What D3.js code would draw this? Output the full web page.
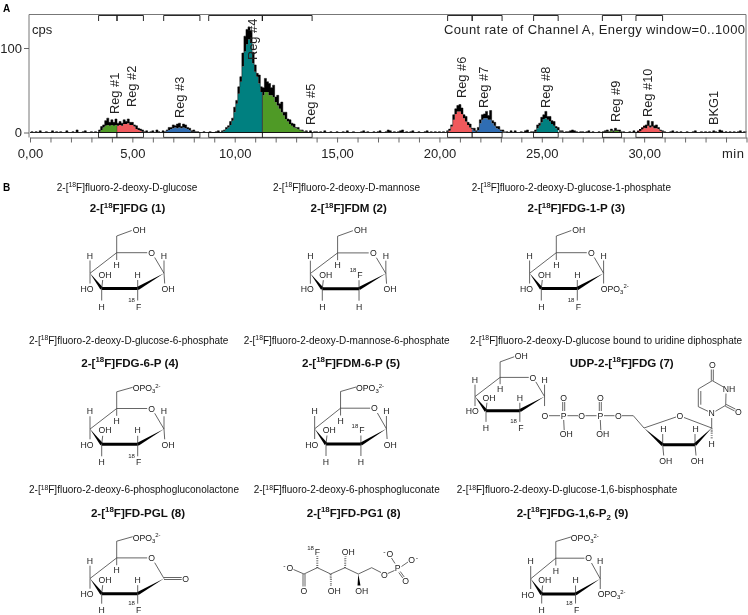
<!DOCTYPE html>
<html>
<head>
<meta charset="utf-8">
<script src="https://cdn.jsdelivr.net/npm/d3@7"></script>
<style>
  html, body { margin: 0; padding: 0; background: #fff; }
  svg { display: block; font-family: "Liberation Sans", Arial, sans-serif; filter: blur(0.3px); }
  .axis text { font-size: 13px; fill: #222; font-family: "Liberation Sans", Arial, sans-serif; }
  .axis path, .axis line { stroke: #666; }
</style>
</head>
<body>
<svg width="748" height="615"></svg>
<script>
// ---- chromatogram values, one entry per 0.1 min from 0 to 35 min ----
const traceHigh = [
  0,1,0,1,0,2,0,0,1,0,
  0,2,0,1,0,1,0,0,2,0,
  0,1,0,3,0,0,1,2,0,0,
  1,0,1,0,3,7,9,14,17,12,
  15,12,16,11,13,11,15,13,16,12,
  12,9,8,5,4,3,1,2,0,1,
  2,0,3,1,0,2,1,3,6,6,
  9,8,10,11,7,10,9,6,5,2,
  3,1,1,0,0,1,0,0,1,0,
  0,1,2,0,2,3,6,8,13,17,
  30,38,54,66,94,114,122,125,120,95,
  80,70,68,54,53,64,60,58,53,56,
  42,44,34,36,24,24,16,15,11,10,
  6,6,3,3,1,2,0,2,0,1,
  1,0,1,0,2,0,0,1,0,0,
  1,0,0,1,0,2,0,0,1,0,
  0,0,1,2,0,1,0,0,1,0,
  1,2,0,0,1,3,2,0,1,0,
  1,2,3,0,1,0,1,2,0,0,
  1,0,0,1,2,0,1,0,1,0,
  1,0,1,0,2,4,9,21,28,32,
  33,29,21,19,12,10,5,5,2,6,
  15,21,22,25,20,26,14,12,7,7,
  3,3,1,1,0,2,0,2,0,0,
  1,0,2,3,0,1,1,3,9,11,
  18,21,25,19,19,14,13,7,6,2,
  2,0,1,1,2,3,2,1,0,1,
  1,0,1,2,0,1,0,0,1,0,
  1,2,3,1,4,2,5,3,3,1,
  1,0,0,1,0,2,0,1,2,4,
  6,9,14,8,13,8,9,6,3,2,
  1,0,0,1,2,0,1,0,1,0,
  0,1,0,0,1,2,0,0,1,0,
  1,0,1,0,2,1,0,3,2,0,
  1,0,1,0,1,0,1,2,0,1,
  1
];
const traceLow = [
  0,0,0,0,0,0,0,0,0,0,
  0,0,0,0,0,0,0,0,0,0,
  0,0,0,0,0,0,0,0,0,0,
  0,0,0,0,1,3,6,8,9,8,
  9,8,9,8,9,8,10,10,11,9,
  9,7,4,3,2,1,0,0,0,0,
  0,0,0,0,0,0,1,2,3,4,
  5,6,5,6,5,6,5,4,3,1,
  1,0,0,0,0,0,0,0,0,0,
  0,0,0,0,1,2,4,6,9,14,
  24,34,46,60,78,96,104,110,106,82,
  72,66,58,48,44,48,48,44,44,42,
  36,32,28,24,20,16,13,10,8,6,
  5,4,3,2,1,1,0,0,0,0,
  0,0,0,0,0,0,0,0,0,0,
  0,0,0,0,0,0,0,0,0,0,
  0,0,0,0,0,0,0,0,0,0,
  0,0,0,0,0,0,0,0,0,0,
  0,0,0,0,0,0,0,0,0,0,
  0,0,0,0,0,0,0,0,0,0,
  0,0,0,0,1,2,7,15,22,25,
  25,22,17,13,9,6,4,2,1,3,
  11,15,17,17,15,15,11,8,5,4,
  2,1,1,0,0,0,0,0,0,0,
  0,0,0,0,0,0,0,1,5,8,
  12,16,17,15,13,10,8,5,3,1,
  1,0,0,0,0,0,0,0,0,0,
  0,0,0,0,0,0,0,0,0,0,
  0,1,1,1,2,1,2,2,1,1,
  0,0,0,0,0,0,0,2,4,6,
  8,5,8,6,7,5,5,4,2,1,
  0,0,0,0,0,0,0,0,0,0,
  0,0,0,0,0,0,0,0,0,0,
  0,0,0,0,0,0,0,0,0,0,
  0,0,0,0,0,0,0,0,0,0,
  0
];
const traceStep = 0.1;

const regionNames = ['Reg #1','Reg #2','Reg #3','Reg #4','Reg #5','Reg #6','Reg #7','Reg #8','Reg #9','Reg #10'];
const regionStarts = [3.35,4.25,6.53,8.73,11.35,20.4,21.6,24.6,27.96,29.6];
const regionEnds = [4.25,5.54,8.3,11.35,13.78,21.6,23.06,25.8,28.9,30.9];
const xTickValues = d3.range(0, 36);
const yTickValues = [0, 100];

// ---- texts of panel B ----
const subtitles = [
  [['2-['],['18','sup'],['F]fluoro-2-deoxy-D-glucose']],
  [['2-['],['18','sup'],['F]fluoro-2-deoxy-D-mannose']],
  [['2-['],['18','sup'],['F]fluoro-2-deoxy-D-glucose-1-phosphate']],
  [['2-['],['18','sup'],['F]fluoro-2-deoxy-D-glucose-6-phosphate']],
  [['2-['],['18','sup'],['F]fluoro-2-deoxy-D-mannose-6-phosphate']],
  [['2-['],['18','sup'],['F]fluoro-2-deoxy-D-glucose bound to uridine diphosphate']],
  [['2-['],['18','sup'],['F]fluoro-2-deoxy-6-phosphogluconolactone']],
  [['2-['],['18','sup'],['F]fluoro-2-deoxy-6-phosphogluconate']],
  [['2-['],['18','sup'],['F]fluoro-2-deoxy-D-glucose-1,6-bisphosphate']]
];
const titles = [
  [['2-['],['18','sup'],['F]FDG (1)']],
  [['2-['],['18','sup'],['F]FDM (2)']],
  [['2-['],['18','sup'],['F]FDG-1-P (3)']],
  [['2-['],['18','sup'],['F]FDG-6-P (4)']],
  [['2-['],['18','sup'],['F]FDM-6-P (5)']],
  [['UDP-2-['],['18','sup'],['F]FDG (7)']],
  [['2-['],['18','sup'],['F]FD-PGL (8)']],
  [['2-['],['18','sup'],['F]FD-PG1 (8)']],
  [['2-['],['18','sup'],['F]FDG-1,6-P'],['2','sub'],[' (9)']]
];

const svg = d3.select('svg');

// ---- panel A ----
const x = d3.scaleLinear().domain([0, 35]).range([30, 746.5]);
const y = d3.scaleLinear().domain([0, 100]).range([132.5, 48]);
const times = traceHigh.map((d, i) => i * traceStep);
const regionColors = ['#4f9a26', '#f0595c', '#2f6db3', '#008080', '#4f9a26', '#f0595c', '#2f6db3', '#008080', '#4f9a26', '#f0595c'];

const plotTop = 14.5, plotBottom = 137.5, plotLeft = 29;

const clips = svg.append('defs');
regionNames.forEach((n, i) => {
  clips.append('clipPath').attr('id', 'reg' + i).append('rect')
    .attr('x', x(regionStarts[i]))
    .attr('width', x(regionEnds[i]) - x(regionStarts[i]))
    .attr('y', plotTop)
    .attr('height', y(0) - plotTop);
});

const lowArea = d3.area()
  .x((d, i) => x(times[i]))
  .y0(y(0))
  .y1(d => y(d))
  .curve(d3.curveStep);

svg.append('g').selectAll('path')
  .data(regionNames)
  .enter()
  .append('path')
  .attr('d', lowArea(traceLow))
  .attr('fill', (d, i) => regionColors[i])
  .attr('clip-path', (d, i) => `url(#reg${i})`);

// noisy black band between lower and upper edge of the trace
const band = d3.area()
  .x((d, i) => x(times[i]))
  .y0((d, i) => y(traceLow[i]))
  .y1(d => y(d))
  .curve(d3.curveStep);
svg.append('path').attr('d', band(traceHigh)).attr('fill', '#000');
svg.append('path')
  .attr('d', d3.line().x((d, i) => x(times[i])).y(d => y(d)).curve(d3.curveStep)(traceHigh))
  .attr('fill', 'none').attr('stroke', '#000').attr('stroke-width', 0.5);

// line between two regions that touch
regionStarts.forEach((s, i) => {
  if (i > 0 && regionEnds[i - 1] === s) {
    svg.append('line')
      .attr('x1', x(s)).attr('x2', x(s))
      .attr('y1', y(0)).attr('y2', y(traceLow[Math.round(s / traceStep)]))
      .attr('stroke', '#333').attr('stroke-width', s === 11.35 ? 0.9 : 0.4);
  }
});

// frame
svg.append('path')
  .attr('d', `M${plotLeft},${plotBottom}V${plotTop}H${x(35) - 0.5}V${plotBottom}`)
  .attr('fill', 'none').attr('stroke', '#777');

const xAxis = d3.axisBottom(x)
  .tickValues(xTickValues)
  .tickSize(5)
  .tickSizeOuter(0)
  .tickFormat(d => (d % 5 === 0 && d < 35 ? d3.format('.2f')(d).replace('.', ',') : ''));
svg.append('g').attr('class', 'axis').attr('transform', `translate(0,${plotBottom})`).call(xAxis)
  .selectAll('text').attr('y', 10.9);

const yAxis = d3.axisLeft(y).tickValues(yTickValues).tickSize(5).tickSizeOuter(0).tickPadding(2);
svg.append('g').attr('class', 'axis').attr('transform', `translate(${plotLeft},0)`).call(yAxis)
  .call(g => g.select('.domain').remove());

// region markers, top and bottom of the plot
regionNames.forEach((n, i) => {
  const x0 = x(regionStarts[i]), x1 = x(regionEnds[i]);
  svg.append('rect')
    .attr('x', x0).attr('width', x1 - x0)
    .attr('y', 132.5).attr('height', 4.8)
    .attr('fill', '#fff').attr('stroke', '#111').attr('stroke-width', 0.8);
  svg.append('path')
    .attr('d', `M${x0},21V15.5H${x1}V21`)
    .attr('fill', 'none').attr('stroke', '#111').attr('stroke-width', 0.9);
});
svg.append('line').attr('x1', 30).attr('x2', x(35) - 1).attr('y1', 132.5).attr('y2', 132.5)
  .attr('stroke', '#000').attr('stroke-width', 0.7);

// rotated labels: centre of the glyph column in minutes, foot of the text in px
const labelNames = regionNames.concat(['BKG1']);
const labelTimes = [4.15, 4.98, 7.28, 10.88, 13.68, 21.06, 22.13, 25.2, 28.58, 30.15, 33.37];
const labelFeet = [114, 107, 118, 60, 125, 98, 108, 108, 122, 117, 125];
labelNames.forEach((n, i) => {
  svg.append('text')
    .attr('transform', `translate(${x(labelTimes[i]) + 4.5},${labelFeet[i]}) rotate(-90)`)
    .attr('font-size', 12.8).attr('fill', '#222')
    .text(n);
});

svg.append('text').attr('x', 32).attr('y', 34).attr('font-size', 13).attr('fill', '#222').text('cps');
svg.append('text').attr('x', 444).attr('y', 34).attr('font-size', 13).attr('fill', '#222')
  .attr('textLength', 301).text('Count rate of Channel A, Energy window=0..1000');
svg.append('text').attr('x', 722).attr('y', 157.5).attr('font-size', 13).attr('fill', '#222')
  .attr('textLength', 22).text('min');

svg.append('text').attr('x', 3).attr('y', 12).attr('font-size', 10).attr('font-weight', 'bold').text('A');
svg.append('text').attr('x', 3).attr('y', 191).attr('font-size', 10).attr('font-weight', 'bold').text('B');

// ---- panel B helpers ----
function rich(parent, cx, baseY, parts, size, bold, anchor) {
  const t = parent.append('text')
    .attr('x', cx).attr('y', baseY)
    .attr('font-size', size)
    .attr('font-weight', bold ? 'bold' : 'normal')
    .attr('text-anchor', anchor || 'middle')
    .attr('fill', '#111');
  let level = 0;
  parts.forEach(p => {
    const kind = p[1];
    const target = kind === 'sup' ? -size * 0.38 : kind === 'sub' ? size * 0.25 : 0;
    t.append('tspan')
      .attr('dy', target - level)
      .attr('font-size', kind ? size * 0.68 : size)
      .text(p[0]);
    level = target;
  });
  return t;
}

const bondColor = '#333';
const lineGen = d3.line();
function bond(a, b) {
  svg.append('path').attr('d', lineGen([a, b])).attr('stroke', bondColor).attr('stroke-width', 0.75).attr('fill', 'none');
}
function hashBond(a, b) {
  svg.append('path').attr('d', lineGen([a, b])).attr('stroke', bondColor).attr('stroke-width', 2)
    .attr('stroke-dasharray', '0.6 1.2').attr('fill', 'none');
}
function thick(a, b) {
  svg.append('path').attr('d', lineGen([a, b])).attr('stroke', '#000').attr('stroke-width', 3).attr('fill', 'none');
}
function wedge(tip, base, w) {
  const dx = base[0] - tip[0], dy = base[1] - tip[1];
  const len = Math.hypot(dx, dy);
  const nx = -dy / len * w / 2, ny = dx / len * w / 2;
  svg.append('path')
    .attr('d', lineGen([tip, [base[0] + nx, base[1] + ny], [base[0] - nx, base[1] - ny]]) + 'Z')
    .attr('fill', '#000');
}
function doubleBond(a, b, off) {
  const dx = b[0] - a[0], dy = b[1] - a[1];
  const len = Math.hypot(dx, dy);
  const nx = -dy / len * off, ny = dx / len * off;
  bond([a[0] + nx, a[1] + ny], [b[0] + nx, b[1] + ny]);
  bond([a[0] - nx, a[1] - ny], [b[0] - nx, b[1] - ny]);
}
function atom(px, py, s, size) {
  svg.append('text')
    .attr('x', px).attr('y', py).attr('dy', '0.36em')
    .attr('text-anchor', 'middle')
    .attr('font-size', size || 8.7)
    .attr('fill', '#222')
    .text(s);
}
const phosphate = [['OPO'], ['3', 'sub'], ['2-', 'sup']];

// six-membered ring, coordinates relative to C3, stretched with s and t
function sugar(ox, oy, opt) {
  const s = opt.s || 1, t = opt.t || 1;
  const low = opt.low || 18;
  const p = (a, b) => [ox + a * s, oy + b * t];
  const c1 = p(62.3, -15.2), c2 = p(36, 0), c3 = p(0, 0), c4 = p(-11.7, -15.2),
    c5 = p(15, -35.8), oRing = p(50, -35.8), c6 = p(15, -52.5);

  bond(c4, c5);
  bond(c5, p(45.5, -35.8));
  bond(p(53, -31), c1);
  wedge(c4, c3, 3.2);
  thick(c3, c2);
  wedge(c1, c2, 3.2);
  atom(oRing[0], oRing[1], 'O');

  bond(c5, c6);
  bond(c5, p(15, -28.5));
  atom(p(15, -23.5)[0], p(15, -23.5)[1], 'H');
  if (opt.c6 === 'phosphate') {
    bond(c6, p(31, -57));
    rich(svg, p(31, -56)[0], p(31, -56)[1] + 3, phosphate, 8.7, false, 'start');
  } else {
    bond(c6, p(30, -58));
    atom(p(37.5, -58.5)[0], p(37.5, -58.5)[1], 'OH');
  }

  // C1
  if (opt.c1 === 'lactone') {
    doubleBond(c1, p(80, -15.2), 1);
    atom(p(84, -15.2)[0], p(84, -15.2)[1], 'O');
  } else {
    bond(c1, p(62.3, -28));
    atom(p(62.3, -33)[0], p(62.3, -33)[1], 'H');
    if (opt.c1 === 'phosphate') {
      bond(c1, p(62.3, -5));
      rich(svg, p(59.5, 0)[0], p(59.5, 0)[1] + 3, phosphate, 8.7, false, 'start');
    } else if (opt.c1 === 'link') {
      bond(c1, p(62.3, -5));
    } else {
      bond(c1, p(63, -5));
      atom(p(66.3, 0.5)[0], p(66.3, 0.5)[1], 'OH');
    }
  }

  // C2, fluorine up for the mannose form
  const up = p(36, -14), down = p(36, low);
  bond(c2, p(36, -8.5));
  bond(c2, p(36, low - 6));
  if (opt.mannose) {
    atom(up[0] + 1, up[1], 'F');
    atom(up[0] - 6, up[1] - 4.5, '18', 6);
    atom(down[0], down[1], 'H');
  } else {
    atom(up[0], up[1], 'H');
    atom(down[0] + 1, down[1], 'F');
    atom(down[0] - 6.2, down[1] - 6.5, '18', 6);
  }

  // C3
  bond(c3, p(1, -8.5));
  bond(c3, p(0, low - 6));
  atom(p(3.3, -14)[0], p(3.3, -14)[1], 'OH');
  atom(p(0, low)[0], p(0, low)[1], 'H');

  // C4
  bond(c4, p(-11.7, -28));
  bond(c4, p(-11.7, -5));
  atom(p(-11.7, -33)[0], p(-11.7, -33)[1], 'H');
  atom(p(-14.7, 0.5)[0], p(-14.7, 0.5)[1], 'HO');
}

// ---- panel B headings ----
const subtitleSpots = [[127, 191], [346.5, 191], [571.3, 191], [128.7, 344], [346.7, 344], [606, 344], [134, 493.3], [346.7, 493.3], [567, 493.3]];
const titleSpots = [[127.5, 212], [348.7, 212], [576.3, 212], [130, 366.7], [351, 366.7], [621.7, 366.7], [138, 516.7], [353.7, 516.7], [572.5, 516.7]];
subtitles.forEach((parts, i) => rich(svg, subtitleSpots[i][0], subtitleSpots[i][1], parts, 10, false));
titles.forEach((parts, i) => rich(svg, titleSpots[i][0], titleSpots[i][1], parts, 11.6, true));

// ---- panel B structures ----
sugar(101.7, 288.5, {});
sugar(322.3, 288.7, { s: 1.02, mannose: true });
sugar(541.3, 288.5, { c1: 'phosphate' });
sugar(101.7, 444.3, { c6: 'phosphate' });
sugar(326, 444, { s: 0.97, c6: 'phosphate', mannose: true });
sugar(486, 410.7, { s: 0.94, t: 0.93, c1: 'link' });
sugar(101.7, 593.7, { c1: 'lactone', c6: 'phosphate', low: 16 });
sugar(541.7, 594, { s: 0.94, c1: 'phosphate', c6: 'phosphate', low: 15.5 });

// UDP tail: diphosphate, ribose, uracil
const chainY = 415.7;
[[545, 'O'], [563.7, 'P'], [581.7, 'O'], [600.3, 'P'], [618.3, 'O']].forEach(a => atom(a[0], chainY, a[1]));
[[549, 560], [567.5, 578], [585.5, 596.5], [604, 614.5], [622, 633.3]].forEach(a => bond([a[0], chainY], [a[1], chainY]));
[563.7, 600.3].forEach(px => {
  doubleBond([px, 411], [px, 402], 1);
  atom(px, 397.7, 'O');
  bond([px, 420], [px + 0.5, 430]);
  atom(px + 2.5, 434.3, 'OH');
});
bond([633.3, chainY], [644, 428]);
const c4r = [644, 428], c3r = [662.7, 444.7], c2r = [695, 444.7], c1r = [711.7, 428];
bond(c4r, [676, 417]);
bond([684, 417.5], c1r);
wedge(c4r, c3r, 3.2);
thick(c3r, c2r);
wedge(c1r, c2r, 3.2);
atom(680, 416, 'O');
[[662.7, 665.7], [695, 697.3]].forEach(a => {
  bond([a[0], 444.7], [a[0], 434]);
  atom(a[0] + 0.6, 429, 'H');
  bond([a[0], 444.7], [a[0] + 1, 455.5]);
  atom(a[1], 461, 'OH');
});
hashBond(c1r, [711.7, 439]);
atom(711.7, 444, 'H');
bond(c1r, [711.7, 418]);
atom(711.7, 413.3, 'N');
bond([708, 411.3], [698.3, 406.7]);
bond([698.3, 406.7], [698.3, 389]);
bond([700.8, 404.7], [700.8, 391]);
bond([698.3, 389], [712.3, 380.7]);
bond([712.3, 380.7], [723.5, 387]);
atom(729, 389, 'NH');
bond([726, 393.5], [725.7, 405.3]);
bond([725.7, 405.3], [715.5, 411.3]);
doubleBond([725.7, 405.3], [735, 410], 1);
atom(738.3, 411.7, 'O');
doubleBond([712.3, 380.7], [712.3, 369.5], 1);
atom(712.3, 365, 'O');

// open chain gluconate
const pg = { c1: [304, 574], c2: [317.3, 567.7], c3: [330.7, 574], c4: [345, 567.7], c5: [358.3, 574], c6: [371.7, 567.7] };
bond([293.5, 569.5], pg.c1);
bond(pg.c1, pg.c2); bond(pg.c2, pg.c3); bond(pg.c3, pg.c4); bond(pg.c4, pg.c5); bond(pg.c5, pg.c6);
bond(pg.c6, [381, 572.5]);
doubleBond(pg.c1, [304, 586.5], 1);
hashBond(pg.c2, [317.3, 556.5]);
hashBond(pg.c3, [331, 585.5]);
hashBond(pg.c4, [345.5, 556.5]);
wedge(pg.c5, [359, 585.5], 3);
bond([387.7, 573.5], [394.5, 570.5]);
bond([395, 563.5], [391.5, 558]);
bond([401.5, 566.5], [408, 562]);
doubleBond([399.5, 572], [403.5, 577.5], 0.9);
atom(290, 567.7, 'O');
atom(284.5, 565, '-', 7);
atom(304, 591, 'O');
atom(317.3, 551.7, 'F');
atom(310.5, 548, '18', 6);
atom(334.3, 591, 'OH');
atom(348.3, 551.7, 'OH');
atom(361.7, 591, 'OH');
atom(384.3, 575, 'O');
atom(397.7, 568.3, 'P');
atom(390, 554, 'O');
atom(384.5, 551.5, '-', 7);
atom(411.7, 560, 'O');
atom(417, 557, '-', 7);
atom(405.7, 581, 'O');
</script>
</body>
</html>
